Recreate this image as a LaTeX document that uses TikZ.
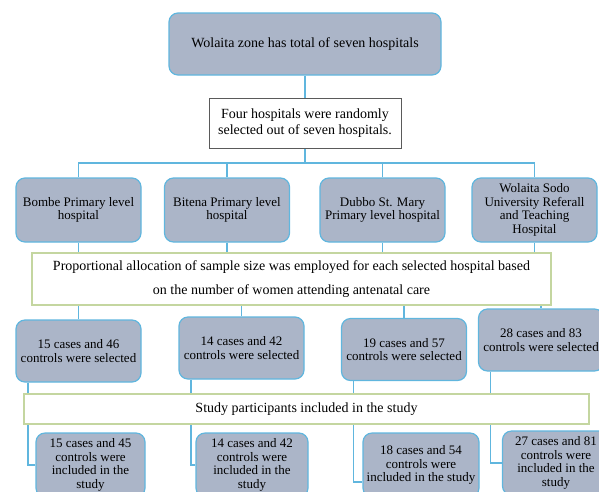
\documentclass[tikz,border=0pt]{standalone}
\usepackage{fontspec}
\setmainfont{Liberation Serif}
\usetikzlibrary{positioning,backgrounds}
\definecolor{boxfill}{RGB}{171,181,200}
\definecolor{boxline}{RGB}{96,182,222}
\definecolor{greenline}{RGB}{196,214,160}
\definecolor{greyline}{RGB}{90,90,90}

\begin{document}
\begin{tikzpicture}[
x=1pt,y=-1pt,
hosp/.style={
	draw=boxline,
	fill=boxfill,
	line width=1.2pt,
	rounded corners=9pt,
	align=center,
	inner sep=2pt
},
plain/.style={
	draw=greyline,
	fill=white,
	line width=0.8pt,
	align=center,
	font=\fontsize{14}{16}\selectfont
},
note/.style={
	draw=greenline,
	fill=white,
	line width=1.2pt,
	align=center,
	font=\fontsize{14}{24}\selectfont
},
link/.style={
	draw=boxline,
	line width=1.2pt
},
font=\fontsize{13}{13.5}\selectfont
]
\useasboundingbox (0,0) rectangle (599,491);

\node[hosp, minimum width=272pt, minimum height=62pt, font=\fontsize{14}{16}\selectfont] (zone) at (305,44)
{Wolaita zone has total of seven hospitals};
\node[plain, minimum width=192pt, minimum height=50pt] (pick) at (305,123)
{Four hospitals were randomly\\selected out of seven hospitals.};

\node[hosp, minimum width=125pt, minimum height=64pt] (bombe) at (78.5,210)
{Bombe Primary level\\hospital};
\node[hosp, minimum width=125pt, minimum height=64pt] (bitena) at (227,210)
{Bitena Primary level\\hospital};
\node[hosp, minimum width=125pt, minimum height=64pt] (dubbo) at (382.5,210)
{Dubbo St. Mary\\Primary level hospital};
\node[hosp, minimum width=125pt, minimum height=64pt] (sodo) at (534.5,210)
{Wolaita Sodo\\University Referall\\and Teaching\\Hospital};

\node[note, minimum width=519pt, minimum height=52pt] (prop) at (291.5,279)
{Proportional allocation of sample size was employed for each selected hospital based\\on the number of women attending antenatal care};

\node[hosp, minimum width=125pt, minimum height=62pt] (sel1) at (78.5,351)
{15 cases and 46\\controls were selected};
\node[hosp, minimum width=125pt, minimum height=62pt] (sel2) at (241.5,348)
{14 cases and 42\\controls were selected};
\node[hosp, minimum width=125pt, minimum height=62pt] (sel3) at (404,349.5)
{19 cases and 57\\controls were selected};
\node[hosp, minimum width=125pt, minimum height=62pt] (sel4) at (541,340)
{28 cases and 83\\controls were selected};

\node[note, minimum width=565pt, minimum height=30pt] (study) at (306.5,409)
{Study participants included in the study};

\node[hosp, minimum width=109pt, minimum height=64pt] (inc1) at (90.5,465)
{15 cases and 45\\controls were\\included in the\\study};
\node[hosp, minimum width=112pt, minimum height=64pt] (inc2) at (252,465)
{14 cases and 42\\controls were\\included in the\\study};
\node[hosp, minimum width=116pt, minimum height=64pt] (inc3) at (421,465)
{18 cases and 54\\controls were\\included in the study};
\node[hosp, minimum width=107pt, minimum height=64pt] (inc4) at (556,463)
{27 cases and 81\\controls were\\included in the\\study};

\begin{scope}[on background layer]
\coordinate (bus) at (305,163);
\draw[link] (zone) -- (pick);
\draw[link] (pick) -- (bus);
\draw[link] (bombe) |- (bus) -| (sodo);
\draw[link] (bitena) |- (bus);
\draw[link] (dubbo) |- (bus);
\foreach \h in {bombe,bitena,dubbo,sodo}
	\draw[link] (\h) -- (\h |- prop);
\foreach \s in {sel1,sel2,sel4}
	\draw[link] (\s |- prop) -- (\s);
\draw[link] (dubbo |- prop.south) -| (sel3);
\foreach \s/\i in {sel1/inc1,sel2/inc2,sel4/inc4}
	\draw[link] ([xshift=12.5pt]\s.south west) |- (\i.west);
\draw[link] ([xshift=12.5pt]sel3.south west) |- ([yshift=-17pt]inc3.west);
\end{scope}

\end{tikzpicture}
\end{document}
